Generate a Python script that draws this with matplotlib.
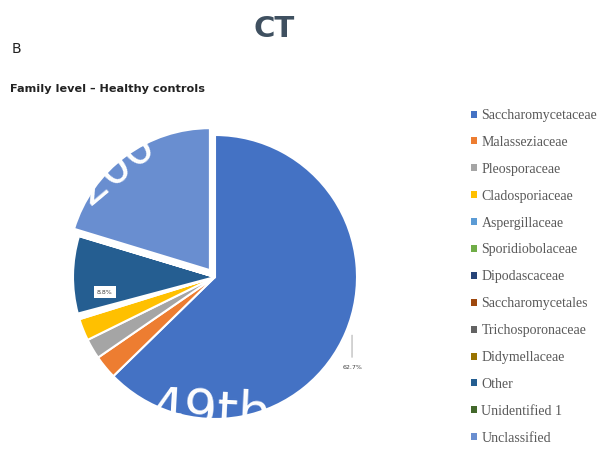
import matplotlib.pyplot as plt
from matplotlib.patches import Patch

# family-level composition, healthy controls (%)
families = ['Saccharomycetaceae', 'Malasseziaceae', 'Pleosporaceae', 'Cladosporiaceae',
            'Aspergillaceae', 'Sporidiobolaceae', 'Dipodascaceae', 'Saccharomycetales',
            'Trichosporonaceae', 'Didymellaceae', 'Other', 'Unidentified 1', 'Unclassified']
shares = [62.7, 2.7, 2.3, 2.5, 0.2, 0.1, 0.1, 0.1, 0.1, 0.05, 8.8, 0.05, 20.3]
colors = ['#4472C4', '#ED7D31', '#A5A5A5', '#FFC000', '#5B9BD5', '#70AD47', '#264478',
          '#9E480E', '#636363', '#997300', '#255E91', '#43682B', '#698ED0']
explode = [0.06 if f == 'Unclassified' else 0 for f in families]

W, H = 607, 455
fig = plt.figure(figsize=(W / 100, H / 100), dpi=100)

# pie centre and radius in pixels
cx, cy, r = 215, 277, 142
lim = 1.2
side = 2 * lim * r
ax = fig.add_axes([(cx - side / 2) / W, (H - cy - side / 2) / H, side / W, side / H])

wedges, _ = ax.pie(shares, colors=colors, explode=explode, startangle=90, counterclock=False,
                   wedgeprops=dict(edgecolor='white', linewidth=1.5))
ax.set_xlim(-lim, lim)
ax.set_ylim(-lim, lim)
ax.set_aspect('equal')
ax.axis('off')

# value labels
ax.annotate('', xy=(0.965, -0.39), xytext=(0.965, -0.585),
            arrowprops=dict(arrowstyle='-', color='#a6a6a6', lw=0.7))
ax.text(0.972, -0.64, '%.1f%%' % shares[0], fontsize=4.5, color='#404040',
        ha='center', va='center')
ax.text(-0.775, -0.106, '%.1f%%' % shares[families.index('Other')], fontsize=4.5,
        color='#404040', ha='center', va='center',
        bbox=dict(boxstyle='square,pad=0.5', fc='white', ec='none'))

# stamp text over the pie, partly running off its edge
ax.text(-0.70, 0.77, '200', fontsize=34, color='white', rotation=40,
        ha='center', va='center')
ax.text(-0.03, -0.96, '49th', fontsize=38, color='white', rotation=-3,
        ha='center', va='center')

fig.text(274 / W, 1 - 29 / H, 'CT', fontsize=21, color='#3f5060', fontweight='bold',
         ha='center', va='center')
fig.text(12 / W, 1 - 49 / H, 'B', fontsize=10, color='#222222', ha='left', va='center')
fig.text(10 / W, 1 - 89 / H, 'Family level \u2013 Healthy controls', fontsize=8.1,
         fontweight='bold', color='#222222', ha='left', va='center')

handles = [Patch(facecolor=c, edgecolor='none') for c in colors]
fig.legend(handles, families, loc='upper left', bbox_to_anchor=(471 / W, 1 - 109 / H),
           frameon=False, borderpad=0, borderaxespad=0, labelspacing=1.0,
           handlelength=0.4, handleheight=0.4, handletextpad=0.35,
           prop=dict(family='Liberation Serif', size=10), labelcolor='#595959')

fig.savefig('out.png', dpi=100)
